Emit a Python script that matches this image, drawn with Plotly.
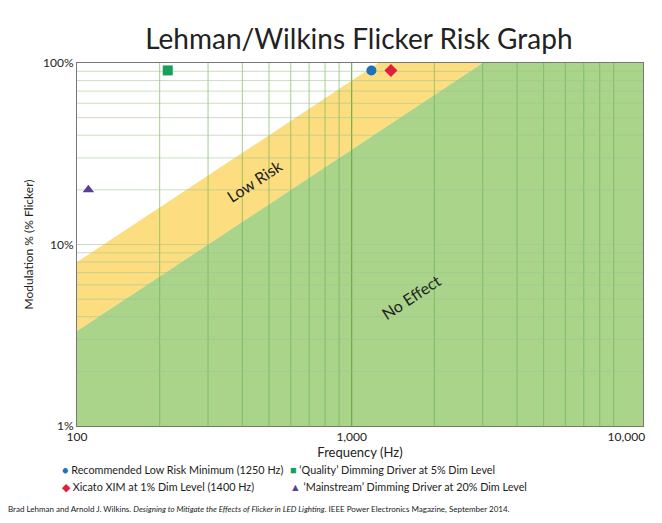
import plotly.graph_objects as go
import math

# data
no_effect_x = [100, 3000, 11500, 11500, 100]
no_effect_y = [3.333, 100, 100, 1, 1]
low_risk_x = [100, 1250, 3000, 100]
low_risk_y = [8, 100, 100, 3.333]

pt_names = ["Recommended Low Risk Minimum (1250 Hz)", "Xicato XIM at 1% Dim Level (1400 Hz)",
            "'Quality' Dimming Driver at 5% Dim Level", "'Mainstream' Dimming Driver at 20% Dim Level"]
pt_x = [1180, 1390, 214, 110]
pt_y = [91, 91, 91, 20]
pt_sym = ["circle", "diamond", "square", "triangle-up"]
pt_col = ["#1f70bd", "#e01f3d", "#17a05b", "#5a3e95"]
pt_glyph = ["●", "◆", "■", "▲"]
legend_labels = ["Recommended Low Risk Minimum (1250 Hz)", "Xicato XIM at 1% Dim Level (1400 Hz)",
                 "\u2018Quality\u2019 Dimming Driver at 5% Dim Level",
                 "\u2018Mainstream\u2019 Dimming Driver at 20% Dim Level"]

X0, X1 = 100, 11500
fig = go.Figure()
fig.add_trace(go.Scatter(x=low_risk_x, y=low_risk_y, fill="toself", mode="none",
                         fillcolor="#fcde80", hoverinfo="skip"))
fig.add_trace(go.Scatter(x=no_effect_x, y=no_effect_y, fill="toself", mode="none",
                         fillcolor="#a9d48a", hoverinfo="skip"))

def grid_lines(vals, vertical):
    xs, ys = [], []
    for v in vals:
        if vertical:
            xs += [v, v, None]; ys += [1, 100, None]
        else:
            xs += [X0, X1, None]; ys += [v, v, None]
    return xs, ys

minor_x = [m * d for d in (100, 1000) for m in range(2, 10)]
minor_y = [m * d for d in (1, 10) for m in range(2, 10)]
gx, gy = grid_lines(minor_x, True)
fig.add_trace(go.Scatter(x=gx, y=gy, mode="lines", line=dict(color="rgba(100,175,70,0.6)", width=1), hoverinfo="skip"))
gx, gy = grid_lines([1000], True)
fig.add_trace(go.Scatter(x=gx, y=gy, mode="lines", line=dict(color="rgba(90,165,55,0.85)", width=1.2), hoverinfo="skip"))
gx, gy = grid_lines(minor_y + [10], False)
fig.add_trace(go.Scatter(x=gx, y=gy, mode="lines", line=dict(color="rgba(160,195,150,0.55)", width=1), hoverinfo="skip"))

for i in range(4):
    fig.add_trace(go.Scatter(x=[pt_x[i]], y=[pt_y[i]], mode="markers", name=pt_names[i],
                             marker=dict(symbol=pt_sym[i], color=pt_col[i], size=10)))

font = "Lato"
fig.update_layout(
    width=662, height=523, showlegend=False,
    margin=dict(l=69, r=27, t=55, b=105, autoexpand=False),
    paper_bgcolor="white", plot_bgcolor="white",
    font=dict(family=font, color="#222", size=12),
    title=dict(text="Lehman/Wilkins Flicker Risk Graph", x=0.53, xanchor="center",
               y=0.94, yanchor="middle", yref="container",
               font=dict(size=28, family=font, color="#222")),
    xaxis=dict(type="log", range=[2, math.log10(X1)], tickvals=[100, 1000, 10000],
               ticktext=["100", "1,000", "10,000"], showline=True, linecolor="#777", mirror=True,
               showgrid=False, automargin=False, ticks="",
               title=dict(text="Frequency (Hz)", font=dict(size=13), standoff=2), zeroline=False),
    yaxis=dict(type="log", range=[0, 2], tickvals=[1, 10, 100], ticktext=["1%", "10%", "100%"],
               showline=True, linecolor="#777", mirror=True, showgrid=False, automargin=False, ticks="",
               title=dict(text="Modulation % (% Flicker)", font=dict(size=12), standoff=6), zeroline=False),
)
fig.add_annotation(x=2.647, y=1.355, xref="x", yref="y", text="Low Risk", showarrow=False,
                   textangle=-33.4, font=dict(size=16, color="#222"))
fig.add_annotation(x=3.218, y=0.711, xref="x", yref="y", text="No Effect", showarrow=False,
                   textangle=-33.4, font=dict(size=16, color="#222"))
pos = [(-0.03, -0.143), (-0.03, -0.19), (0.372, -0.143), (0.372, -0.19)]
for i in range(4):
    x0, y0 = pos[i]
    fig.add_annotation(x=x0, y=y0, xref="paper", yref="paper", xanchor="left", showarrow=False,
                       text=f"<span style='color:{pt_col[i]}'>{pt_glyph[i]}</span> {legend_labels[i]}",
                       font=dict(size=10.8, color="#222"))
fig.add_annotation(x=-0.125, y=-0.248, xref="paper", yref="paper", xanchor="left", showarrow=False,
                   text="Brad Lehman and Arnold J. Wilkins. <i>Designing to Mitigate the Effects of Flicker in LED Lighting</i>. IEEE Power Electronics Magazine, September 2014.",
                   font=dict(size=8, color="#222"))
fig.write_html("out.html")
